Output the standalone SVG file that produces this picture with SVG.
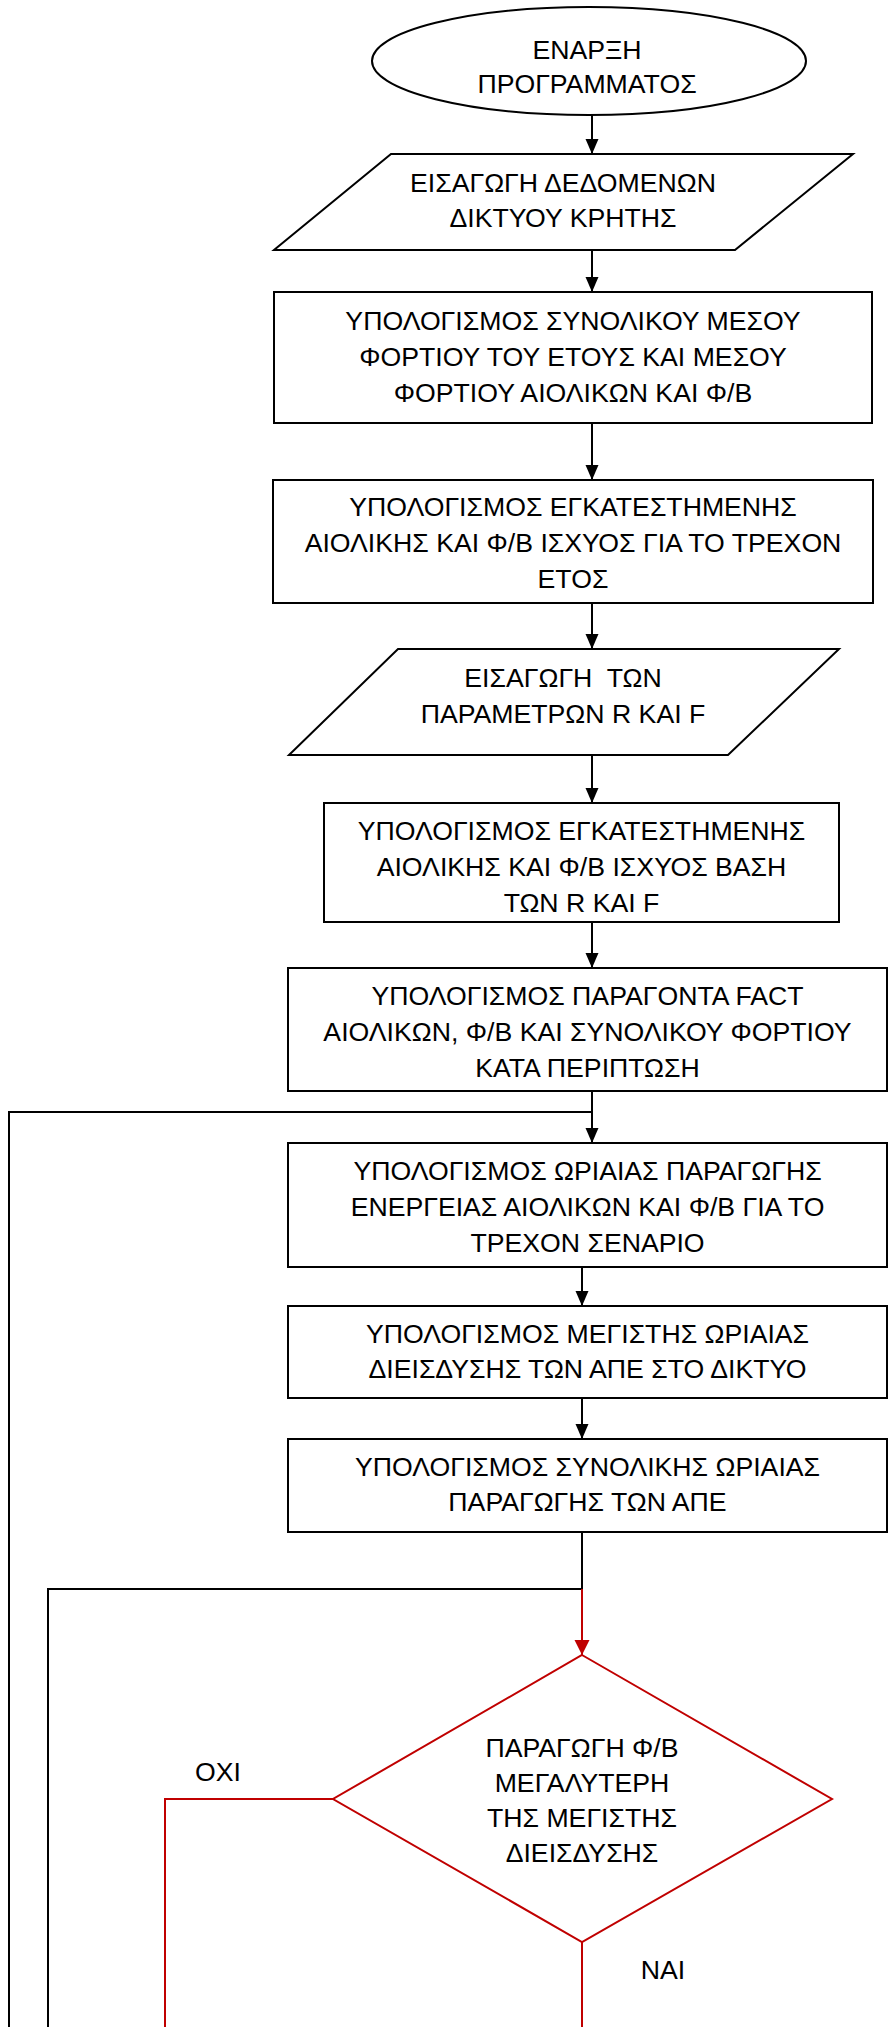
<svg xmlns="http://www.w3.org/2000/svg" width="891" height="2027" viewBox="0 0 891 2027">
<style>
.shape{fill:#fff;stroke:#000;stroke-width:2}
.dec{fill:#fff;stroke:#C00000;stroke-width:2}
.t{font-family:"Liberation Sans",Arial,sans-serif;font-size:26.67px;fill:#000;text-anchor:middle}
.c{fill:none;stroke:#000;stroke-width:2}
.r{fill:none;stroke:#C00000;stroke-width:2}
</style>
<defs>
<marker id="ab" markerUnits="userSpaceOnUse" markerWidth="16" markerHeight="14" refX="15" refY="7" orient="auto">
<path d="M0,0.5 L15,7 L0,13.5 Z" fill="#000"/>
</marker>
<marker id="ar" markerUnits="userSpaceOnUse" markerWidth="16" markerHeight="16" refX="15" refY="8" orient="auto">
<path d="M0,0.5 L15,8 L0,15.5 Z" fill="#C00000"/>
</marker>
</defs>
<rect width="891" height="2027" fill="#fff"/>
<g id="connectors">
<path class="c" d="M592,115 V154" marker-end="url(#ab)"/>
<path class="c" d="M592,250 V292" marker-end="url(#ab)"/>
<path class="c" d="M592,423 V480" marker-end="url(#ab)"/>
<path class="c" d="M592,603 V649" marker-end="url(#ab)"/>
<path class="c" d="M592,755 V803" marker-end="url(#ab)"/>
<path class="c" d="M592,922 V968" marker-end="url(#ab)"/>
<path class="c" d="M592,1091 V1143" marker-end="url(#ab)"/>
<path class="c" d="M9,2027 V1112 H592"/>
<path class="c" d="M582,1267 V1306" marker-end="url(#ab)"/>
<path class="c" d="M582,1398 V1439" marker-end="url(#ab)"/>
<path class="c" d="M582,1532 V1589"/>
<path class="c" d="M48,2027 V1589 H582"/>
<path class="r" d="M582,1589 V1655" marker-end="url(#ar)"/>
<path class="r" d="M333,1799 H165 V2027"/>
<path class="r" d="M582,1942 V2027"/>
</g>
<g id="start">
<ellipse class="shape" cx="589" cy="61" rx="217" ry="54"/>
<text class="t" x="587" y="59">ΕΝΑΡΞΗ</text>
<text class="t" x="587" y="93">ΠΡΟΓΡΑΜΜΑΤΟΣ</text>
</g>
<g id="input1">
<polygon class="shape" points="391,154 853,154 735,250 274,250"/>
<text class="t" x="563" y="192">ΕΙΣΑΓΩΓΗ ΔΕΔΟΜΕΝΩΝ</text>
<text class="t" x="563" y="227">ΔΙΚΤΥΟΥ ΚΡΗΤΗΣ</text>
</g>
<g id="calc1">
<rect class="shape" x="274" y="292" width="598" height="131"/>
<text class="t" x="573" y="330">ΥΠΟΛΟΓΙΣΜΟΣ ΣΥΝΟΛΙΚΟΥ ΜΕΣΟΥ</text>
<text class="t" x="573" y="366">ΦΟΡΤΙΟΥ ΤΟΥ ΕΤΟΥΣ ΚΑΙ ΜΕΣΟΥ</text>
<text class="t" x="573" y="402">ΦΟΡΤΙΟΥ ΑΙΟΛΙΚΩΝ ΚΑΙ Φ/Β</text>
</g>
<g id="calc2">
<rect class="shape" x="273" y="480" width="600" height="123"/>
<text class="t" x="573" y="516">ΥΠΟΛΟΓΙΣΜΟΣ ΕΓΚΑΤΕΣΤΗΜΕΝΗΣ</text>
<text class="t" x="573" y="552">ΑΙΟΛΙΚΗΣ ΚΑΙ Φ/Β ΙΣΧΥΟΣ ΓΙΑ ΤΟ ΤΡΕΧΟΝ</text>
<text class="t" x="573" y="588">ΕΤΟΣ</text>
</g>
<g id="input2">
<polygon class="shape" points="398,649 839,649 728,755 289,755"/>
<text class="t" x="563" y="687" xml:space="preserve">ΕΙΣΑΓΩΓΗ  ΤΩΝ</text>
<text class="t" x="563" y="723">ΠΑΡΑΜΕΤΡΩΝ R ΚΑΙ F</text>
</g>
<g id="calc3">
<rect class="shape" x="324" y="803" width="515" height="119"/>
<text class="t" x="581.5" y="840">ΥΠΟΛΟΓΙΣΜΟΣ ΕΓΚΑΤΕΣΤΗΜΕΝΗΣ</text>
<text class="t" x="581.5" y="876">ΑΙΟΛΙΚΗΣ ΚΑΙ Φ/Β ΙΣΧΥΟΣ ΒΑΣΗ</text>
<text class="t" x="581.5" y="912">ΤΩΝ R ΚΑΙ F</text>
</g>
<g id="calc4">
<rect class="shape" x="288" y="968" width="599" height="123"/>
<text class="t" x="587.5" y="1005">ΥΠΟΛΟΓΙΣΜΟΣ ΠΑΡΑΓΟΝΤΑ FACT</text>
<text class="t" x="587.5" y="1041">ΑΙΟΛΙΚΩΝ, Φ/Β ΚΑΙ ΣΥΝΟΛΙΚΟΥ ΦΟΡΤΙΟΥ</text>
<text class="t" x="587.5" y="1077">ΚΑΤΑ ΠΕΡΙΠΤΩΣΗ</text>
</g>
<g id="calc5">
<rect class="shape" x="288" y="1143" width="599" height="124"/>
<text class="t" x="587.5" y="1180">ΥΠΟΛΟΓΙΣΜΟΣ ΩΡΙΑΙΑΣ ΠΑΡΑΓΩΓΗΣ</text>
<text class="t" x="587.5" y="1216">ΕΝΕΡΓΕΙΑΣ ΑΙΟΛΙΚΩΝ ΚΑΙ Φ/Β ΓΙΑ ΤΟ</text>
<text class="t" x="587.5" y="1252">ΤΡΕΧΟΝ ΣΕΝΑΡΙΟ</text>
</g>
<g id="calc6">
<rect class="shape" x="288" y="1306" width="599" height="92"/>
<text class="t" x="587.5" y="1343">ΥΠΟΛΟΓΙΣΜΟΣ ΜΕΓΙΣΤΗΣ ΩΡΙΑΙΑΣ</text>
<text class="t" x="587.5" y="1378">ΔΙΕΙΣΔΥΣΗΣ ΤΩΝ ΑΠΕ ΣΤΟ ΔΙΚΤΥΟ</text>
</g>
<g id="calc7">
<rect class="shape" x="288" y="1439" width="599" height="93"/>
<text class="t" x="587.5" y="1476">ΥΠΟΛΟΓΙΣΜΟΣ ΣΥΝΟΛΙΚΗΣ ΩΡΙΑΙΑΣ</text>
<text class="t" x="587.5" y="1511">ΠΑΡΑΓΩΓΗΣ ΤΩΝ ΑΠΕ</text>
</g>
<g id="decision">
<polygon class="dec" points="582,1655 832,1799 582,1942 333,1799"/>
<text class="t" x="582" y="1757">ΠΑΡΑΓΩΓΗ Φ/Β</text>
<text class="t" x="582" y="1792">ΜΕΓΑΛΥΤΕΡΗ</text>
<text class="t" x="582" y="1827">ΤΗΣ ΜΕΓΙΣΤΗΣ</text>
<text class="t" x="582" y="1862">ΔΙΕΙΣΔΥΣΗΣ</text>
</g>
<g id="labels">
<text class="t" x="218" y="1781">ΟΧΙ</text>
<text class="t" x="663" y="1979">ΝΑΙ</text>
</g>
</svg>
